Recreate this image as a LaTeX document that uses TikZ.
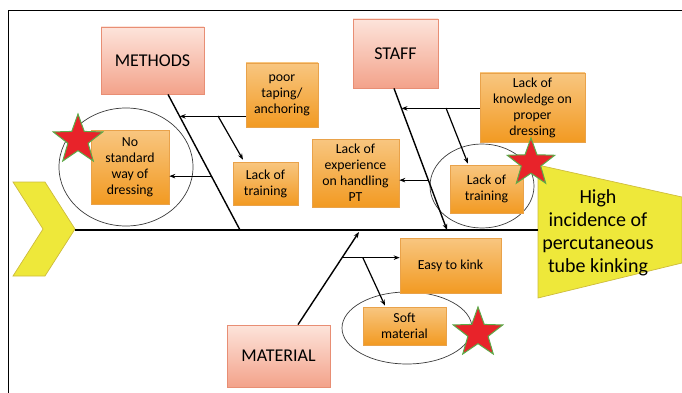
\documentclass[tikz,border=0pt]{standalone}
\usepackage{fontspec}
\setmainfont{Carlito}
\usetikzlibrary{shapes.geometric,arrows.meta,shadows,calc}
\definecolor{pinkt}{HTML}{FDE4DB}
\definecolor{pinkbot}{HTML}{F3A28A}
\definecolor{pinkb}{HTML}{E88E74}
\definecolor{oranget}{HTML}{F8C680}
\definecolor{orangebot}{HTML}{F29A22}
\definecolor{orangeb}{HTML}{E9A24A}
\definecolor{yellowf}{HTML}{EEE83A}
\definecolor{yellowd}{HTML}{CDBB3C}
\definecolor{starred}{HTML}{E8232A}
\definecolor{stargreen}{HTML}{5DAA48}
\definecolor{ringc}{HTML}{3A3A3A}
\begin{document}
\begin{tikzpicture}[x=1pt,y=-1pt,
  catbox/.style={draw=pinkb, line width=0.8pt, top color=pinkt, bottom color=pinkbot,
    font=\fontsize{18}{21}\selectfont, text=black, inner sep=2pt,
    drop shadow={shadow xshift=1pt, shadow yshift=-1pt, opacity=0.2, fill=black}},
  cause/.style={draw=orangeb, line width=0.6pt, top color=oranget, bottom color=orangebot,
    align=center, font=\fontsize{13.8}{16}\selectfont, text=black, inner sep=2pt,
    drop shadow={shadow xshift=1pt, shadow yshift=-1pt, opacity=0.2, fill=black}},
  bone/.style={line width=1.4pt, black},
  arr/.style={line width=1.2pt, black, -{Stealth[length=6pt,width=4.5pt]}},
  ring/.style={draw=ringc, line width=0.7pt},
  starsh/.style={star, star points=5, star point ratio=2.45, fill=starred,
    draw=stargreen, line width=1pt, inner sep=0pt},
]
\useasboundingbox (0,0) rectangle (682,393);
% frame
\draw[line width=0.9pt] (8,393) -- (8,10) -- (682,10);
% tail chevron
\filldraw[fill=yellowf, draw=yellowd, line width=0.7pt]
  (13,182) -- (45,182) -- (75,229) -- (45,276) -- (13,276) -- (43,229) -- cycle;
% head
\filldraw[fill=yellowf, draw=yellowd, line width=0.7pt]
  (538,165) -- (682,197) -- (682,263) -- (538,298) -- cycle;
\node[align=center, font=\fontsize{20}{23}\selectfont, text=black] (head) at (598,233)
  {High\\incidence of\\percutaneous\\tube kinking};
% spine
\coordinate (tail) at (75,230);
\coordinate (headbase) at (538,230);
\draw[bone] (tail) -- (headbase);
% rings
\draw[ring] (126,167) ellipse [x radius=67, y radius=59];
\draw[ring] (482,186) ellipse [x radius=52, y radius=42];
\draw[ring] (407,328) ellipse [x radius=65, y radius=36];
% category boxes
\node[catbox, minimum width=103pt, minimum height=67pt] (methods) at (152.5,60.5) {METHODS};
\node[catbox, minimum width=85pt, minimum height=69pt] (staff) at (395.5,53.5) {STAFF};
\node[catbox, minimum width=103pt, minimum height=62pt] (material) at (278.5,356) {MATERIAL};
% cause boxes
\node[cause, minimum width=72pt, minimum height=64pt] (poor) at (282,95) {poor\\taping/\\anchoring};
\node[cause, minimum width=78pt, minimum height=74pt] (nostd) at (130,167) {No\\standard\\way of\\dressing};
\node[cause, minimum width=65pt, minimum height=43pt] (ltm) at (265.5,183.5) {Lack of\\training};
\node[cause, minimum width=87pt, minimum height=68pt] (exp) at (355.5,173) {Lack of\\experience\\on handling\\PT};
\node[cause, minimum width=105pt, minimum height=69pt] (know) at (532.5,107.5) {Lack of\\knowledge on\\proper\\dressing};
\node[cause, minimum width=73pt, minimum height=48pt] (lts) at (486.5,189) {Lack of\\training};
\node[cause, minimum width=101pt, minimum height=55pt] (easy) at (450.5,265.5) {Easy to kink};
\node[cause, minimum width=83pt, minimum height=38pt] (soft) at (404.5,326) {Soft\\material};
% methods bone
\coordinate (mtop) at ([xshift=15.5pt]methods.south);
\coordinate (mspine) at (240,230);
\draw[bone] (mtop) -- (mspine);
\coordinate (m1) at ($(mtop)!0.162!(mspine)$);
\coordinate (m2) at ($(mtop)!0.603!(mspine)$);
\coordinate (m1b) at (218,116);
\draw[arr] (poor.west |- m1) -- (m1);
\draw[arr] (m1b) -- ([xshift=-22.5pt, yshift=2pt]ltm.north);
\draw[arr] (m2) -- (nostd.east |- m2);
% staff bone
\coordinate (stop) at ([xshift=-1.5pt]staff.south);
\coordinate (sspine) at (447,230);
\draw[bone, -{Stealth[length=6pt,width=4.5pt]}] (stop) -- (sspine);
\coordinate (s1) at ($(stop)!0.141!(sspine)$);
\coordinate (s2) at ($(stop)!0.648!(sspine)$);
\coordinate (s1b) at (446,108);
\draw[arr] (know.west |- s1) -- (s1);
\draw[arr] (s1b) -- ([xshift=-18.5pt, yshift=1pt]lts.north);
\draw[arr] (s2) -- (exp.east |- s2);
% material bone
\coordinate (mattop) at ([xshift=19.5pt]material.north);
\coordinate (matspine) at (359,232);
\draw[bone, -{Stealth[length=6pt,width=4.5pt]}] (mattop) -- (matspine);
\coordinate (ma1) at ($(mattop)!0.723!(matspine)$);
\coordinate (ma1b) at (363,258);
\draw[arr] (ma1) -- (easy.west |- ma1);
\draw[arr] (ma1b) -- ([xshift=-19.5pt, yshift=1pt]soft.north);
% stars
\node[starsh, minimum size=52pt] (st1) at (78,140) {};
\node[starsh, minimum size=50pt] (st2) at (531,163) {};
\node[starsh, minimum size=52pt] (st3) at (478,333) {};
\end{tikzpicture}
\end{document}
